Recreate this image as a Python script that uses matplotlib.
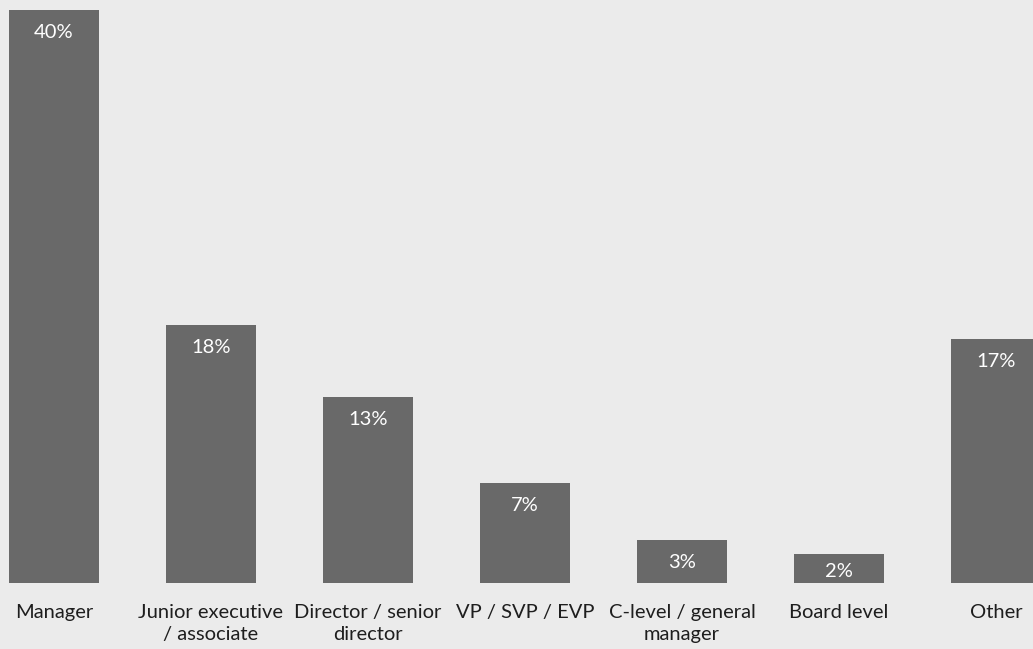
import matplotlib
matplotlib.use("Agg")
import matplotlib.pyplot as plt

# Job level of respondents (share in %)
categories = ["Manager", "Junior executive\n/ associate", "Director / senior\ndirector",
              "VP / SVP / EVP", "C-level / general\nmanager", "Board level", "Other"]
shares = [40, 18, 13, 7, 3, 2, 17]
value_labels = ["40%", "18%", "13%", "7%", "3%", "2%", "17%"]

BG = "#ebebeb"
BAR = "#696969"
TXT = "#1e1e1e"

plt.rcParams["font.family"] = ["Lato", "DejaVu Sans"]

W, H = 1033, 649
fig = plt.figure(figsize=(W / 100, H / 100), dpi=100, facecolor=BG)
bottom_px, top_px = 66, 10                                   # distance of the baseline / top of plot
ax = fig.add_axes([0, bottom_px / H, 1, (H - bottom_px) / H])
ax.set_facecolor(BG)

pitch = 157.0
x = list(range(len(shares)))
ax.bar(x, shares, width=90 / pitch, color=BAR, linewidth=0)

ax.set_xlim(-54 / pitch, (W - 54) / pitch)
ax.set_ylim(0, 40 * (H - bottom_px) / (H - bottom_px - top_px))

for xi, v, lab in zip(x, shares, value_labels):
    off = -10 if v > 2 else -6                               # smallest bar: keep label inside
    ax.annotate(lab, (xi, v), xytext=(0, off), textcoords="offset points",
                ha="center", va="top", color="white", fontsize=14.5)

ax.set_xticks(x)
ax.set_xticklabels(categories, fontsize=14.5, color=TXT, linespacing=1.35)
ax.tick_params(axis="x", length=0, pad=15)
ax.set_yticks([])
for s in ax.spines.values():
    s.set_visible(False)

fig.savefig("out.png", dpi=100, facecolor=BG)
